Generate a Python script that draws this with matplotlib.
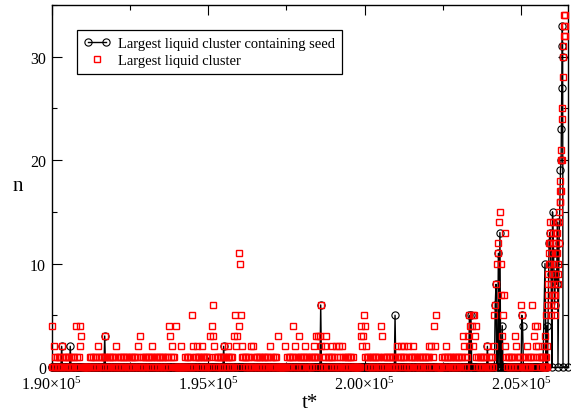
import numpy as np
import matplotlib
matplotlib.use("Agg")
import matplotlib.pyplot as plt
from matplotlib.ticker import MultipleLocator
from matplotlib.legend_handler import HandlerLine2D

plt.rcParams["font.family"] = ["Liberation Serif", "DejaVu Serif"]
plt.rcParams["mathtext.fontset"] = "custom"
plt.rcParams["mathtext.rm"] = "Liberation Serif"
plt.rcParams["mathtext.default"] = "regular"

# n every 25 time units from t* = 190000 on, one character per sample,
# base 36 (a=10, b=11, ... f=15). One line = 1000 time units.
t0_main = 190000
dt_main = 25
largest_main = [
    "0402010101" "0102010101" "0101010101" "0401014230",
    "0000000001" "0101010102" "0101010131" "0101010101",
    "0102010101" "0101010101" "0101010101" "0203010101",
    "0101010121" "0101010101" "0101010101" "4301210104",
    "0000020000" "0101010105" "0201012101" "0121010101",
    "0103046321" "0101010101" "2101012101" "0103052304",
    "ba51210101" "0101020201" "0101010101" "0101010102",
    "0101010100" "3000000020" "0101010141" "0201013101",
    "0101210101" "0101012131" "3103620101" "2301010121",
    "0102010201" "0201010101" "0101010000" "0000034235",
    "4121010101" "0101010101" "0431010101" "0101010101",
    "0201012101" "2101020101" "0121010101" "0101010101",
    "0121020104" "2500000001" "0101210101" "0101010101",
    "0101013201" "0132540452" "5341010101" "0101010201",
    "010102568a" "cbefa7357d" "2101010101" "0132010101",
    "6501010201" "0101610342" "41210101",
]
seed_main = [
    "0000000000" "0002000000" "0000200000" "0000000000",
    "0000000000" "0000000000" "0000000030" "0000000000",
    "0000000000" "0000000000" "0000000000" "0000000000",
    "0000000000" "0000000000" "0000000000" "0000000000",
    "0000000000" "0000000000" "0000000000" "0000000000",
    "0000000000" "0000000000" "2000000000" "0000000000",
    "0000000000" "0000000000" "0000000000" "0000000000",
    "0000000000" "0000000000" "0000000000" "0000000000",
    "0000000000" "0000000000" "0000600000" "0000000000",
    "0000000000" "0000000000" "0000000000" "0000000000",
    "0000000000" "0000000000" "0000000000" "0000000005",
    "0000000000" "0000000000" "0000000000" "0000000000",
    "0000000000" "0000000000" "0000000000" "0000000000",
    "0000000000" "0000505000" "0000000000" "0000000200",
    "0000000680" "0b0d004000" "0000000000" "0000000000",
    "0540000000" "0000000000" "00000000",
]

# growth at the end, every 10 time units from 205700
t0_end = 205700
dt_end = 10
largest_end = [0, 1, 0, 2, 0, 1, 0, 3, 0, 1, 5, 0, 2, 6, 0, 7,
               8, 9, 10, 11, 12, 13, 14, 12, 10, 8, 6, 5, 7, 9, 11, 13,
               14, 12, 10, 8, 7, 6, 5, 7, 9, 11, 12, 13, 14, 13, 11, 9,
               8, 10, 12, 14, 15, 16,
               16, 17, 18, 17, 20, 21, 20, 24, 25, 28, 30, 31, 32, 34,
               33, 32, 34, 33]

seed_end_t = [205700, 205765, 205800, 205830, 205845, 205895, 205925,
              205960, 205990, 206005, 206040, 206070, 206100, 206135,
              206165, 206180, 206215, 206260, 206280, 206290, 206300,
              206310, 206320, 206330, 206340, 206500]
seed_end_n = [0, 10, 0, 4, 0, 12, 13, 9, 0, 15, 11, 6, 9, 8, 14, 0, 12,
              19, 20, 23, 27, 31, 33, 30, 0, 0]

xticks = [190000, 195000, 200000, 205000]
xtick_labels = ["1.90×10$^{5}$", "1.95×10$^{5}$", "2.00×10$^{5}$", "2.05×10$^{5}$"]
yticks = [0, 10, 20, 30]


def decode(lines):
    return [int(c, 36) for c in "".join(lines)]


n_big = decode(largest_main)
n_seed = decode(seed_main)
t_big = np.concatenate([t0_main + dt_main * np.arange(len(n_big)),
                        t0_end + dt_end * np.arange(len(largest_end))])
n_big = n_big + largest_end
t_seed = np.concatenate([t0_main + dt_main * np.arange(len(n_seed)), seed_end_t])
n_seed = n_seed + seed_end_n

fig = plt.figure(figsize=(5.71, 4.14), dpi=100)
ax = fig.add_axes([51.5 / 571, 46 / 414, 516.5 / 571, 362 / 414])

l1, = ax.plot(t_seed, n_seed, "-o", color="black", lw=1.0, ms=5.2,
              mfc="none", mew=0.8, clip_on=False, zorder=2,
              label="Largest liquid cluster containing seed")
l2, = ax.plot(t_big, n_big, "s", ls="none", color="red", ms=4.5,
              mfc="none", mew=1.0, clip_on=False, zorder=3,
              label="Largest liquid cluster")

ax.set_xlim(190000, 206500)
ax.set_ylim(0, 35)
ax.set_xticks(xticks)
ax.set_xticklabels(xtick_labels)
ax.set_yticks(yticks)
ax.xaxis.set_minor_locator(MultipleLocator(2500))
ax.yaxis.set_minor_locator(MultipleLocator(5))
ax.tick_params(which="both", direction="in", top=True, right=True,
               labelsize=11.5, width=0.8)
ax.tick_params(which="major", length=7)
ax.tick_params(which="minor", length=3.6)
ax.tick_params(axis="x", pad=6.5)
ax.tick_params(axis="y", pad=4)
for s in ax.spines.values():
    s.set_linewidth(1.0)

ax.set_xlabel("t*", fontsize=15, labelpad=0)
ax.set_ylabel("n", fontsize=15, rotation=0, va="center", labelpad=9)

leg = ax.legend(handles=[l1, l2], loc="upper left",
                bbox_to_anchor=(0.049, 0.931), borderaxespad=0,
                fontsize=10.5, fancybox=False, edgecolor="black",
                framealpha=1, handlelength=1.85, handletextpad=0.55,
                labelspacing=0.3, borderpad=0.45,
                handler_map={l1: HandlerLine2D(numpoints=2),
                             l2: HandlerLine2D(numpoints=1)})
leg.get_frame().set_linewidth(0.9)

fig.savefig("out.png", dpi=100)
